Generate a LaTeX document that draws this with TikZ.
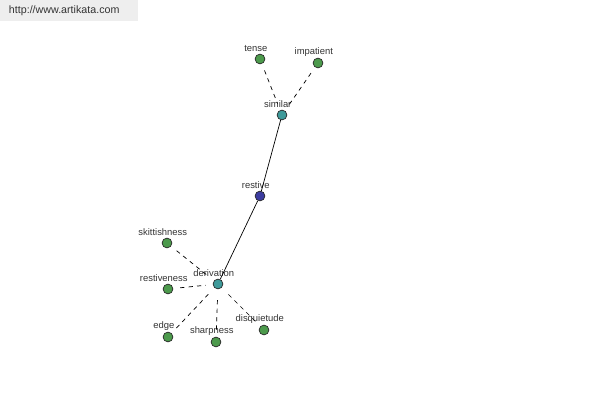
\documentclass[tikz,border=0pt]{standalone}
\usepackage{fontspec}
\setmainfont{Liberation Sans}
\usepackage{tikz}
\definecolor{ink}{HTML}{333333}
\definecolor{leaf}{HTML}{4C9A4C}
\definecolor{hub}{HTML}{3E9A9A}
\definecolor{root}{HTML}{3C3CA0}
\definecolor{banner}{HTML}{EEEEEE}
\tikzset{
  word/.style={circle,draw=ink!80!black,line width=0.5pt,minimum size=7pt,inner sep=0pt},
  lbl/.style={font=\fontsize{6.7}{8}\selectfont,text=ink,inner sep=1pt,xshift=-3pt},
  wleaf/.style={word,fill=leaf},
  whub/.style={word,fill=hub},
  wroot/.style={word,fill=root},
  syn/.style={line width=0.5pt,dash pattern=on 3pt off 3pt,shorten <=5pt,shorten >=5pt},
  rel/.style={line width=0.5pt}}

\begin{document}
\begin{tikzpicture}[x=0.025cm,y=-0.025cm]
\useasboundingbox (0,0) rectangle (600,400);
\fill[banner] (0,0) rectangle (138,21);
\node[font=\fontsize{7.6}{9}\selectfont,text=ink,anchor=west] (site) at (4,11) {http://www.artikata.com};

% words
\node[wroot,label={[lbl]above:restive}] (restive) at (260,196) {};
\node[whub,label={[lbl]above:similar}] (similar) at (282,115) {};
\node[whub,label={[lbl]above:derivation}] (deriv) at (218,284) {};
\node[wleaf,label={[lbl]above:tense}] (tense) at (260,59) {};
\node[wleaf,label={[lbl]above:impatient}] (impat) at (318,63) {};
\node[wleaf,label={[lbl]above:skittishness}] (skitt) at (167,243) {};
\node[wleaf,label={[lbl]above:restiveness}] (restv) at (168,289) {};
\node[wleaf,label={[lbl]above:edge}] (edge) at (168,337) {};
\node[wleaf,label={[lbl]above:sharpness}] (sharp) at (216,342) {};
\node[wleaf,label={[lbl]above:disquietude}] (disq) at (264,330) {};

% links
\draw[rel] (restive) -- (similar);
\draw[rel] (restive) -- (deriv);
\draw[syn] (tense) -- (similar);
\draw[syn] (impat) -- (similar);
\foreach \w in {skitt,restv,edge,sharp,disq}
  \draw[syn] (\w) -- (deriv);
\end{tikzpicture}
\end{document}
